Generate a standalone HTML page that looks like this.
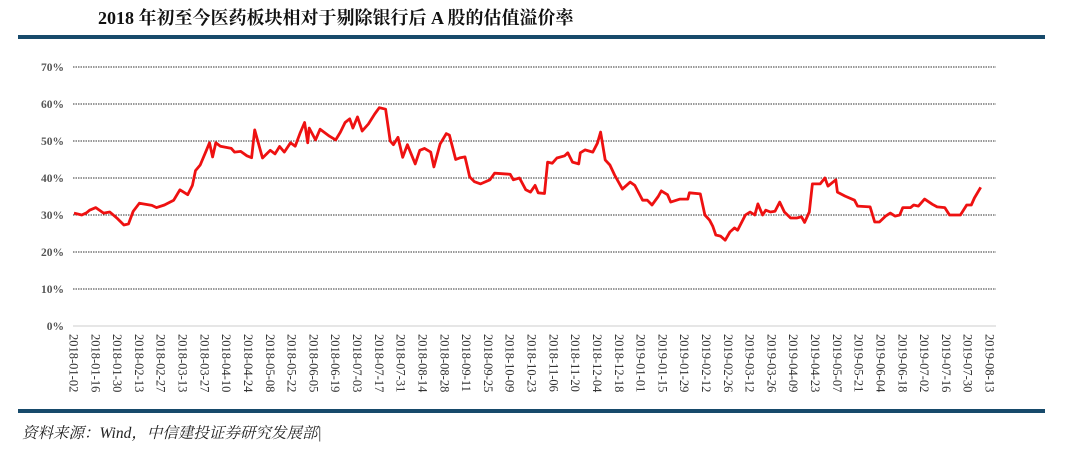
<!DOCTYPE html>
<html><head><meta charset="utf-8"><style>
body{margin:0;background:#fff;width:1080px;height:451px;overflow:hidden;font-family:"Liberation Serif","Noto Serif CJK SC",serif}
</style></head><body>
<svg width="1080" height="451" id="svg">
<text x="98" y="24" font-size="18" font-weight="bold" fill="#111">2018 年初至今医药板块相对于剔除银行后 A 股的估值溢价率</text>
<rect x="18" y="35" width="1027" height="4" fill="#174a6b"/>
<rect x="18" y="409" width="1027" height="4" fill="#174a6b"/>
<text x="22" y="438" font-size="15.5" font-style="italic" fill="#222" font-family="'Liberation Serif','Noto Serif CJK SC',serif">资料来源：Wind，中信建投证券研究发展部|</text>
<g id="grid"></g><g id="ylab"></g><g id="xlab"></g>
<path id="line" fill="none" stroke="#ee1111" stroke-width="2.8" stroke-linejoin="round"/>
</svg>
<script>
const yTicks=[0,10,20,30,40,50,60,70];
const days=[0,5,8,10,14,19,23,28,32,35,38,42,50,53,58,64,68,73,76,78,81,85,87,89,91,94,101,103,107,111,114,116,121,126,129,132,135,139,142,145,148,150,151,155,158,164,168,171,174,177,179,182,185,189,193,196,200,203,205,208,211,214,219,222,225,229,231,235,239,241,245,248,251,254,257,261,267,270,280,282,286,290,293,296,298,302,304,307,310,315,317,320,324,325,328,333,336,338,341,344,347,352,357,360,365,368,371,375,377,381,383,389,394,395,402,405,408,410,412,415,418,421,424,426,431,434,437,439,442,444,447,450,453,456,460,464,467,469,472,474,479,482,484,489,490,495,501,503,511,514,517,521,524,527,530,532,537,539,542,546,551,554,559,562,569,573,576,578,582,591];
const values=[30.5,30,30.6,31.3,32,30.5,30.8,29,27.3,27.6,31,33.2,32.6,32,32.7,34,36.8,35.5,38,42,43.5,47.5,49.5,45.7,49.5,48.6,48,47,47.2,46,45.5,53,45.4,47.5,46.5,48.5,47,49.5,48.6,52,55,49.5,53.5,50.3,53.2,51.3,50.3,52.4,55,56,53.5,56.5,52.7,54.6,57.3,59,58.6,50,49,51,45.6,49,43.8,47.5,48,47,43,49.2,52,51.6,45,45.5,45.7,40.3,39,38.4,39.5,41.3,41,39.5,40,36.8,36.2,38,36,35.8,44.3,44,45.4,46,46.8,44.3,43.8,46.8,47.6,47,49.4,52.4,44.9,43.5,40.8,37,38.9,38,34,34,32.7,35,36.5,35.5,33.5,34.3,34.3,36,35.7,30,28.6,27,24.6,24.3,23.2,25.4,26.5,25.9,30,30.8,30,33,30,31.3,30.8,31,33.5,30.8,29.2,29.2,29.5,28,30.8,38.4,38.4,40,37.8,39.5,36.2,35.1,34,32.4,32.2,28.1,28.1,29.7,30.5,29.7,30,32,32,32.7,32.4,34.3,32.9,32.2,32,30,30,32.7,32.7,34.6,37.5];
const dateLabels=["2018-01-02","2018-01-16","2018-01-30","2018-02-13","2018-02-27","2018-03-13","2018-03-27","2018-04-10","2018-04-24","2018-05-08","2018-05-22","2018-06-05","2018-06-19","2018-07-03","2018-07-17","2018-07-31","2018-08-14","2018-08-28","2018-09-11","2018-09-25","2018-10-09","2018-10-23","2018-11-06","2018-11-20","2018-12-04","2018-12-18","2019-01-01","2019-01-15","2019-01-29","2019-02-12","2019-02-26","2019-03-12","2019-03-26","2019-04-09","2019-04-23","2019-05-07","2019-05-21","2019-06-04","2019-06-18","2019-07-02","2019-07-16","2019-07-30","2019-08-13"];
const X0=74,PX=21.81/14,Y0=326,PY=3.7;
const xs=d=>X0+d*PX, ys=v=>Y0-v*PY;
const NS="http://www.w3.org/2000/svg";
const grid=document.getElementById('grid'),yl=document.getElementById('ylab'),xl=document.getElementById('xlab');
yTicks.forEach(t=>{
 const l=document.createElementNS(NS,'line');
 
 
 l.setAttribute('x1',73);l.setAttribute('x2',996);l.setAttribute('y1',ys(t));l.setAttribute('y2',ys(t));
 l.setAttribute('stroke',t===0?'#ccc':'#333');l.setAttribute('stroke-width','0.9');
 if(t!==0)l.setAttribute('stroke-dasharray','1.5,1');
 grid.appendChild(l);
 const tx=document.createElementNS(NS,'text');
 
 
 tx.setAttribute('x',64);tx.setAttribute('y',ys(t)+4);tx.setAttribute('text-anchor','end');
 tx.setAttribute('font-size','11.5');tx.setAttribute('font-weight','bold');tx.setAttribute('fill','#555');
 tx.textContent=t+'%';yl.appendChild(tx);
});
dateLabels.forEach((s,i)=>{
 const x=xs(i*14);
 const tx=document.createElementNS(NS,'text');
 
 
 tx.setAttribute('transform','translate('+(x-4.5)+',334) rotate(90)');
 tx.setAttribute('font-size','12.5');tx.setAttribute('fill','#333');
 tx.textContent=s;xl.appendChild(tx);
});
document.getElementById('line').setAttribute('d',days.map((d,i)=>(i?'L':'M')+xs(d).toFixed(1)+','+ys(values[i]).toFixed(1)).join(''));
</script>
</body></html>
